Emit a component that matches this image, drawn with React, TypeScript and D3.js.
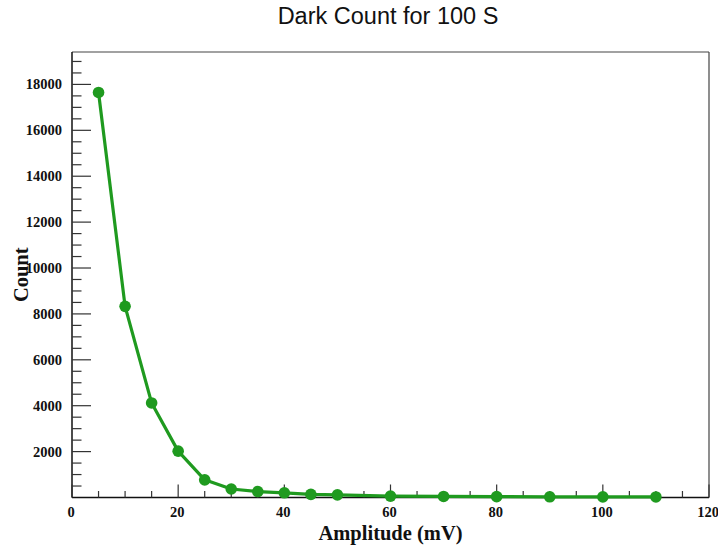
import React from "react";
import * as d3 from "d3";

const amplitudes = [5, 10, 15, 20, 25, 30, 35, 40, 45, 50, 60, 70, 80, 90, 100, 110];
const counts = [17650, 8330, 4120, 2020, 770, 370, 260, 205, 135, 115, 60, 45, 40, 30, 28, 25];
const xTickLabels = [0, 20, 40, 60, 80, 100, 120];
const yTickLabels = [2000, 4000, 6000, 8000, 10000, 12000, 14000, 16000, 18000];
const titleText = "Dark Count for 100 S";
const xTitle = "Amplitude (mV)";
const yTitle = "Count";

const W = 718;
const H = 549;
const L = 72, R = 709, T = 52, B = 497.5;

export default function App() {
  const yMax = d3.max(counts)! + (d3.max(counts)! - d3.min(counts)!) * 0.1;
  const x = d3.scaleLinear().domain([0, 120]).range([L, R]);
  const y = d3.scaleLinear().domain([0, yMax]).range([B, T]);
  const line = d3
    .line<number>()
    .x((_, i) => x(amplitudes[i]))
    .y((d) => y(d));

  const xMinor = d3.range(0, 121, 5).filter((v) => v % 20 !== 0);
  const yMinor = d3.range(0, yMax, 500).filter((v) => v % 2000 !== 0 && v > 0);
  const serif = "'Liberation Serif', 'Times New Roman', serif";
  const tickColor = "#333";
  const green = "#1f9a1f";

  return (
    <svg width={W} height={H} style={{ position: "absolute", left: 0, top: 0, background: "#fff" }}>
      <rect x={0} y={0} width={W} height={H} fill="#fff" />
      <text x={388} y={24} textAnchor="middle" fontFamily="'Liberation Sans', Arial, sans-serif" fontSize={23.5} fill="#111">
        {titleText}
      </text>
      {/* frame */}
      <line x1={L} y1={T} x2={R} y2={T} stroke="#444" strokeWidth={1.2} />
      <line x1={R} y1={T} x2={R} y2={B} stroke="#444" strokeWidth={1.2} />
      <line x1={L} y1={T} x2={L} y2={B} stroke="#111" strokeWidth={1.5} />
      <line x1={L} y1={B} x2={R} y2={B} stroke="#111" strokeWidth={1.5} />
      {/* x ticks */}
      {xTickLabels.map((v) => (
        <line key={"xM" + v} x1={x(v)} x2={x(v)} y1={B} y2={B - 13} stroke={tickColor} strokeWidth={1.2} />
      ))}
      {xMinor.map((v) => (
        <line key={"xm" + v} x1={x(v)} x2={x(v)} y1={B} y2={B - 6.5} stroke={tickColor} strokeWidth={1.2} />
      ))}
      {xTickLabels.map((v) => (
        <text key={"xl" + v} x={x(v) - 1} y={517} textAnchor="middle" fontFamily={serif} fontWeight="bold" fontSize={14.5} fill="#111">
          {v}
        </text>
      ))}
      {/* y ticks */}
      {yTickLabels.map((v) => (
        <line key={"yM" + v} x1={L} x2={L + 19} y1={y(v)} y2={y(v)} stroke={tickColor} strokeWidth={1.2} />
      ))}
      {yMinor.map((v) => (
        <line key={"ym" + v} x1={L} x2={L + 9.5} y1={y(v)} y2={y(v)} stroke={tickColor} strokeWidth={1.2} />
      ))}
      {yTickLabels.map((v) => (
        <text key={"yl" + v} x={62} y={y(v)} dy="0.35em" textAnchor="end" fontFamily={serif} fontWeight="bold" fontSize={14.5} fill="#111">
          {v}
        </text>
      ))}
      {/* axis titles */}
      <text x={(L + R) / 2} y={540} textAnchor="middle" fontFamily={serif} fontWeight="bold" fontSize={20.5} fill="#111">
        {xTitle}
      </text>
      <text
        transform={`translate(28, ${(T + B) / 2}) rotate(-90)`}
        textAnchor="middle"
        fontFamily={serif}
        fontWeight="bold"
        fontSize={20.5}
        fill="#111"
      >
        {yTitle}
      </text>
      {/* data */}
      <path d={line(counts) || ""} fill="none" stroke={green} strokeWidth={3.2} strokeLinejoin="round" />
      {counts.map((c, i) => (
        <circle key={"p" + i} cx={x(amplitudes[i])} cy={y(c)} r={5.8} fill={green} />
      ))}
    </svg>
  );
}
